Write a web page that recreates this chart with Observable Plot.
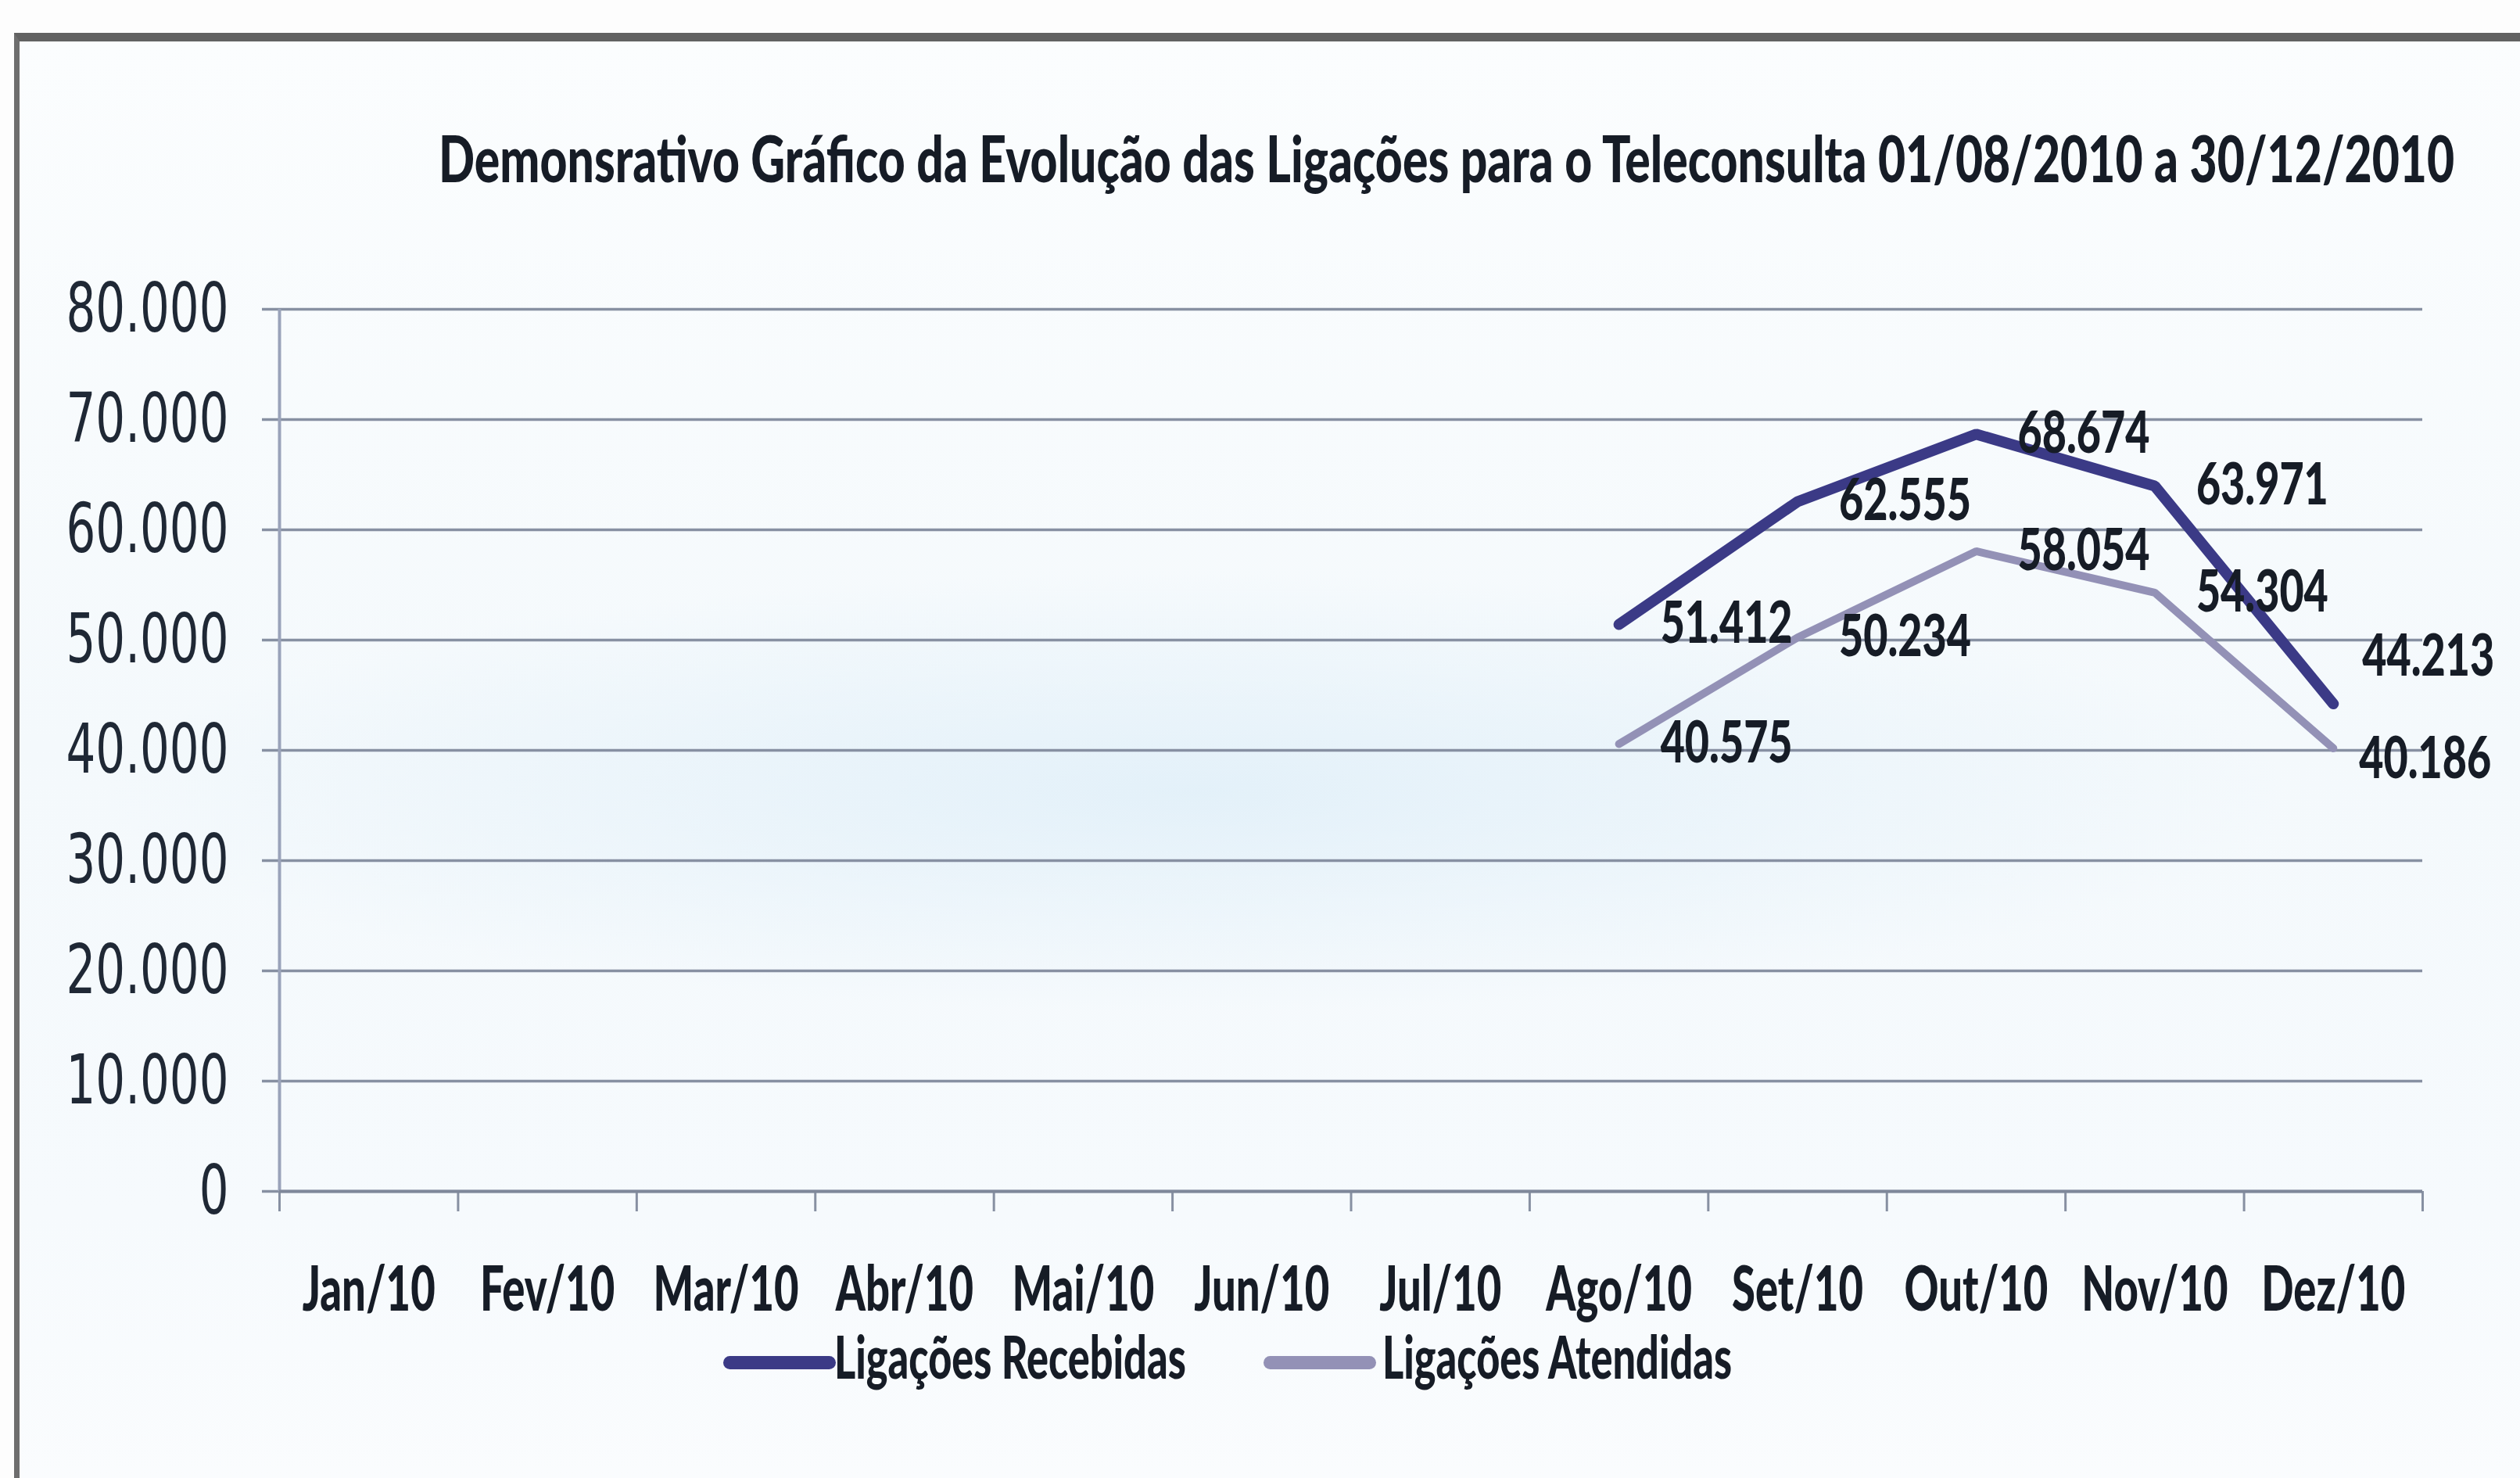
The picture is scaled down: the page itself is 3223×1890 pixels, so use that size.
<!DOCTYPE html>
<html>
<head>
<meta charset="utf-8">
<script src="https://cdn.jsdelivr.net/npm/d3@7"></script>
<script src="https://cdn.jsdelivr.net/npm/@observablehq/plot@0.6"></script>
<style>
  html, body { margin: 0; padding: 0; background: #fdfdfd; overflow: hidden; }
  #page { position: relative; width: 3223px; height: 1890px; overflow: hidden; background: #fdfdfd; }
  #frame {
    position: absolute; left: 18px; top: 42px; width: 3400px; height: 2000px;
    border-left: 7px solid #6e6e6e; border-top: 11px solid #626262;
    background:
      radial-gradient(ellipse 1400px 280px at 1500px 960px, rgba(220,237,248,0.7), rgba(220,237,248,0) 100%),
      linear-gradient(#fbfdfe, #f4f9fc 45%, #f6fafd 75%, #fcfdfe);
  }
  #title {
    position: absolute; left: 561px; top: 160px; white-space: nowrap;
    font-family: Lato, "Open Sans", sans-serif; font-weight: 900; font-size: 82px; line-height: 1;
    color: #161c26; transform-origin: 0 0;
  }
  #chart { position: absolute; left: 0; top: 300px; }
  .legtext {
    position: absolute; top: 1696px; white-space: nowrap;
    font-family: Lato, "Open Sans", sans-serif; font-weight: 900; font-size: 76px; line-height: 1;
    color: #161c26; transform-origin: 0 0;
  }
  .swatch { position: absolute; height: 17px; border-radius: 9px; top: 1734px; }
</style>
</head>
<body>
<div id="page">
  <div id="frame"></div>
  <div id="title">Demonsrativo Gráfico da Evolução das Ligações para o Teleconsulta 01/08/2010 a 30/12/2010</div>
  <div id="chart"></div>
  <div id="legend"></div>
</div>
<script>
// ---- data ----
const months = ["Jan/10","Fev/10","Mar/10","Abr/10","Mai/10","Jun/10","Jul/10","Ago/10","Set/10","Out/10","Nov/10","Dez/10"];
const seriesNames = ["Ligações Recebidas", "Ligações Atendidas"];
const dataMonths = ["Ago/10","Set/10","Out/10","Nov/10","Dez/10"];
const recebidas = [51412, 62555, 68674, 63971, 44213];
const atendidas = [40575, 50234, 58054, 54304, 40186];
const yTicks = [0, 10000, 20000, 30000, 40000, 50000, 60000, 70000, 80000];
const seriesColors = ["#3b3a86", "#9391b6"];

const rows = [];
dataMonths.forEach((m, i) => {
  rows.push({series: seriesNames[0], month: m, value: recebidas[i]});
  rows.push({series: seriesNames[1], month: m, value: atendidas[i]});
});
const fmt = v => v === 0 ? "0" : d3.format(",")(v).replace(/,/g, ".");
const xi = d => months.indexOf(d.month) + 0.5;
const rec = rows.filter(d => d.series === seriesNames[0]);
const ate = rows.filter(d => d.series === seriesNames[1]);
const lastMonth = months[months.length - 1];

const labelFont = {fontFamily: "Lato, 'Open Sans', sans-serif", fontWeight: 900, fontSize: 74, fill: "#161c26"};
const gridColor = "#8790a2";

const chart = Plot.plot({
  width: 3223,
  height: 1400,
  marginTop: 95,
  marginBottom: 177,
  marginLeft: 357,
  marginRight: 125,
  style: {background: "transparent", overflow: "visible"},
  x: {type: "linear", domain: [0, months.length], label: null},
  y: {domain: [0, 80000], label: null},
  marks: [
    Plot.gridY({ticks: yTicks, stroke: gridColor, strokeOpacity: 1, strokeWidth: 3.5}),
    Plot.axisY({ticks: yTicks, tickSize: 22, tickPadding: 43, stroke: gridColor, strokeWidth: 3.5,
      tickFormat: fmt, fontSize: 88, fontFamily: "'DejaVu Sans', Verdana, sans-serif", fill: "#1f2835", label: null}),
    Plot.ruleX([0], {stroke: "#9aa3ba", strokeWidth: 4}),
    Plot.axisX({ticks: d3.range(months.length + 1), tickSize: 26, tickFormat: () => "", stroke: gridColor, strokeWidth: 3, label: null}),
    Plot.axisX({ticks: months.map((m, i) => i + 0.5), tickSize: 0, tickPadding: 96,
      tickFormat: v => months[Math.round(v - 0.5)], fontSize: 80, fontFamily: "Lato, 'Open Sans', sans-serif",
      fontWeight: 900, fill: "#161c26", label: null}),
    Plot.ruleY([0], {stroke: "#7f889a", strokeWidth: 4}),
    Plot.line(ate, {x: xi, y: "value", stroke: seriesColors[1], strokeWidth: 10, strokeLinejoin: "miter", strokeLinecap: "round"}),
    Plot.line(rec, {x: xi, y: "value", stroke: seriesColors[0], strokeWidth: 14, strokeLinejoin: "miter", strokeLinecap: "round"}),
    Plot.text(rows.filter(d => d.month !== lastMonth), {x: xi, y: "value", text: d => fmt(d.value), textAnchor: "start", dx: 53, ...labelFont}),
    Plot.text(rec.filter(d => d.month === lastMonth), {x: xi, y: "value", text: d => fmt(d.value), textAnchor: "start", dx: 37, dy: -60, ...labelFont}),
    Plot.text(ate.filter(d => d.month === lastMonth), {x: xi, y: "value", text: d => fmt(d.value), textAnchor: "start", dx: 33, dy: 14, ...labelFont})
  ]
});
document.getElementById("chart").appendChild(chart);

// narrow the text horizontally (condensed look of the original) around each text's anchor
function squeeze(nodes, refText, targetWidth) {
  nodes = Array.from(nodes).filter(n => n.textContent.length);
  if (!nodes.length) return;
  const ref = nodes.find(n => n.textContent === refText) || nodes[0];
  const f = targetWidth / ref.getComputedTextLength();
  nodes.forEach(n => {
    const t = n.getAttribute("transform");
    if (t) {
      n.setAttribute("transform", `${t} scale(${f},1)`);
    } else {
      const x = +(n.getAttribute("x") || 0), y = +(n.getAttribute("y") || 0);
      n.setAttribute("transform", `translate(${x},${y}) scale(${f},1) translate(${-x},${-y})`);
    }
  });
}
squeeze(chart.querySelectorAll('g[aria-label="x-axis tick label"] text'), "Jan/10", 170);
squeeze(chart.querySelectorAll('g[aria-label="y-axis tick label"] text'), "80.000", 208);
squeeze(chart.querySelectorAll('g[aria-label="text"] text'), "51.412", 169);

const title = document.getElementById("title");
title.style.transform = `scaleX(${2578 / title.offsetWidth})`;

// legend
const legend = document.getElementById("legend");
const swatchX = [925, 1616];
const textX = [1067, 1768];
let legF = null;
seriesNames.forEach((name, i) => {
  const sw = document.createElement("div");
  sw.className = "swatch";
  sw.style.left = swatchX[i] + "px";
  sw.style.width = "144px";
  sw.style.background = seriesColors[i];
  legend.appendChild(sw);
  const t = document.createElement("div");
  t.className = "legtext";
  t.style.left = textX[i] + "px";
  t.textContent = name;
  legend.appendChild(t);
  if (legF === null) legF = 450 / t.offsetWidth;
  t.style.transform = `scaleX(${legF})`;
});
</script>
</body>
</html>
